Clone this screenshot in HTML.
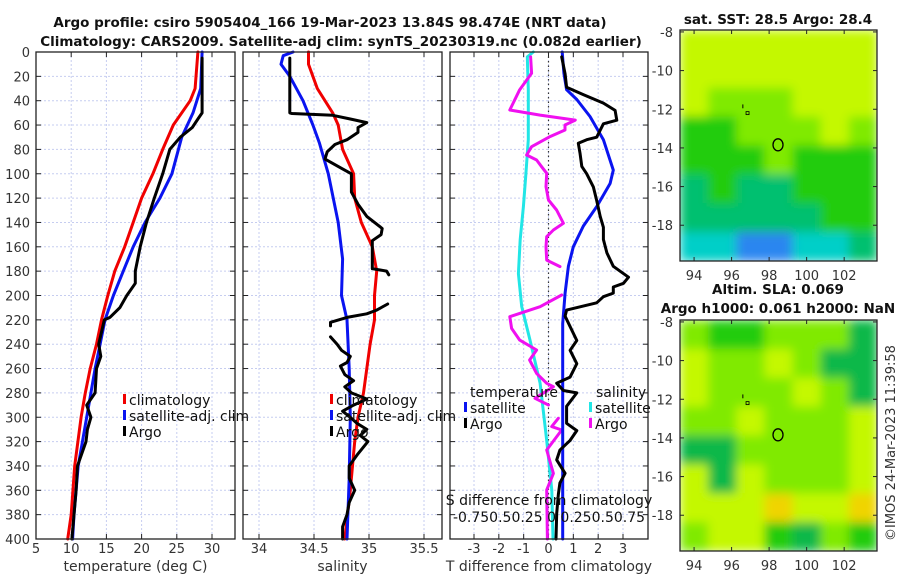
<!DOCTYPE html>
<html><head><meta charset="utf-8">
<style>
html,body{margin:0;padding:0;background:#fff;}
svg{display:block;font-family:"DejaVu Sans","Liberation Sans",sans-serif;}
.tick{font-size:13px;fill:#333;}
.ttl{font-size:13.5px;font-weight:bold;fill:#111;}
.leg{font-size:14px;fill:#111;}
</style></head>
<body>
<svg id="chart" width="900" height="580" viewBox="0 0 900 580">
<defs>
<filter id="smooth" x="0" y="0" width="1" height="1"><feGaussianBlur stdDeviation="5" edgeMode="duplicate"/></filter>
<clipPath id="clipTop"><rect x="680" y="30" width="197" height="231"/></clipPath>
<clipPath id="clipBot"><rect x="680" y="320" width="197" height="231"/></clipPath>
</defs>
<text class="ttl" x="330" y="27" text-anchor="middle">Argo profile: csiro 5905404_166 19-Mar-2023 13.84S 98.474E (NRT data)</text>
<text class="ttl" x="341" y="46" text-anchor="middle">Climatology: CARS2009. Satellite-adj clim: synTS_20230319.nc (0.082d earlier)</text>
<text class="ttl" x="778" y="24" text-anchor="middle">sat. SST: 28.5 Argo: 28.4</text>
<text class="ttl" x="778" y="294" text-anchor="middle">Altim. SLA: 0.069</text>
<text class="ttl" x="778" y="313" text-anchor="middle">Argo h1000: 0.061 h2000: NaN</text>
<text class="tick" transform="translate(895,541) rotate(-90)">©IMOS 24-Mar-2023 11:39:58</text>
</svg>
<script>
// ---- data ----
const depthTicks=[0,20,40,60,80,100,120,140,160,180,200,220,240,260,280,300,320,340,360,380,400];
const tempTicks=[5,10,15,20,25,30];
const salTicks=[34,34.5,35,35.5];
const salTickLabels=["34","34.5","35","35.5"];
const dTTicks=[-3,-2,-1,0,1,2,3];
const climTDepth=[0,30,40,60,80,100,120,140,160,180,200,220,240,260,280,300,340,380,400];
const climT=[28.0,27.6,26.9,24.5,23.0,21.6,20.0,18.8,17.6,16.2,15.2,14.3,13.6,12.7,12.0,11.4,10.5,10.0,9.5];
const satTDepth=[0,30,50,70,100,120,140,160,180,200,220,240,260,280,300,340,380,400];
const satT=[28.6,28.4,27.3,25.7,24.3,22.6,20.5,18.8,17.4,16.0,14.8,14.1,13.4,12.8,12.2,11.0,10.4,10.2];
const argoTDepth=[5,50,55,62,70,80,100,120,140,160,180,190,200,210,218,220,240,250,260,280,290,300,310,320,340,360,400];
const argoT=[28.6,28.6,28.0,27.2,25.5,24.0,23.0,21.8,20.7,19.8,19.1,19.1,17.9,16.9,15.5,14.7,13.9,14.2,13.6,13.4,12.2,12.8,12.3,12.1,10.9,10.7,10.1];
const climSDepth=[0,10,30,50,60,80,100,120,140,160,180,200,220,240,260,280,300,320,340,360,400];
const climS=[34.45,34.45,34.53,34.67,34.72,34.76,34.86,34.87,34.93,35.03,35.07,35.05,35.05,35.01,34.98,34.95,34.90,34.87,34.85,34.83,34.78];
const satSDepth=[0,3,10,20,40,60,75,100,140,170,200,220,260,300,350,400];
const satS=[34.31,34.22,34.20,34.28,34.40,34.49,34.55,34.63,34.72,34.76,34.75,34.80,34.82,34.83,34.82,34.80];
const argoSDepth=[5,50,50.5,52,55,58,62,66,72,76,82,88,96,100,115,125,135,145,150,155,165,178,180,183,184,207,212,215,218,222,225,230,234,240,245,250,255,258,265,270,275,280,285,290,295,300,305,310,315,320,330,340,350,360,370,380,390,400];
const argoS=[34.28,34.28,34.30,34.67,34.83,34.98,34.90,34.90,34.80,34.69,34.62,34.60,34.76,34.84,34.84,34.90,34.98,35.12,35.11,35.03,35.03,35.03,35.16,35.18,null,35.17,35.07,34.98,34.80,34.65,34.65,null,34.65,34.71,34.75,34.83,34.80,34.74,34.78,34.86,34.78,34.84,34.98,34.86,34.76,34.83,34.89,34.98,34.92,34.99,34.90,34.82,34.82,34.87,34.82,34.80,34.76,34.76];
const dTArgoDepth=[4,18,29,35,42,48,56,59,70,72,75,83,94,100,111,122,135,144,154,165,176,185,190,193,198,201,206,212,217,237,245,256,267,272,278,280,291,305,311,319,327,335,346,354,363,379,400];
const dTArgo=[0.53,0.67,0.73,1.40,2.21,2.68,2.75,2.21,1.94,1.54,1.20,1.27,1.34,1.54,1.81,1.94,2.08,2.21,2.21,2.35,2.61,3.22,3.02,2.61,2.61,2.21,1.94,0.73,0.67,1.14,0.87,1.14,0.87,0.33,0.60,1.14,0.73,0.73,1.14,0.87,0.46,0.33,0.67,0.46,0.40,0.33,0.30];
const dTSatDepth=[0,17.5,31,39,53,72,97,108,127,143,160,176,198,223,250,291,346,400];
const dTSat=[0.55,0.62,0.73,1.14,1.67,2.21,2.61,2.48,1.94,1.40,1.00,0.80,0.67,0.57,0.57,0.57,0.57,0.57];
const dSSatDepth=[0,4,31,72,100,127,154,182,209,237,272,319,360,400];
const dSSat=[-0.153,-0.213,-0.203,-0.203,-0.228,-0.253,-0.285,-0.303,-0.27,-0.185,-0.085,-0.018,0.033,0.045];
const dSArgoDepth=[4,17.5,31,47.6,51.8,55.9,60,64.1,69.5,77.8,84.6,88.7,94.2,99.6,110.6,121.6,129.8,140.7,146.2,151.7,159.9,170.9,176.3,177,199.6,209.2,217.4,227,236.6,244.8,253,264,272.1,274.9,284.4,289.9,290.5,300.9,307.7,310.5,326.9,346.1,359.7,400];
const dSArgo=[-0.18,-0.17,-0.29,-0.39,-0.085,0.27,0.166,0.166,0.015,-0.17,-0.22,-0.12,-0.069,-0.018,-0.025,0.0,0.082,0.15,0.049,-0.018,-0.025,-0.018,0.116,null,0.133,-0.085,-0.39,-0.371,-0.29,-0.12,-0.19,-0.12,-0.018,0.049,-0.136,0.0,null,0.099,0.032,0.133,-0.018,0.049,-0.018,-0.011];
const mapLonTicks=[94,96,98,100,102];
const mapLatTicks=[-8,-10,-12,-14,-16,-18];
const sstGrid=["YYYYYYY","YYYYYYY","YLLLYYY","GGLLLYL","GGGLGGG","TGTTGGG","TTTTTGG","CCBBCCT"];
const slaGrid=["LGGLLLD","YLLYLDD","YLLLYLD","LLYLLLY","DDLLLLY","YDYLLLY","YYYOYYO","LYYGDLG"];
const gridColors={Y:"#c4f800",L:"#80ea00",G:"#20cc10",D:"#10b848",T:"#00c070",C:"#00cfc8",B:"#2a86f0",O:"#f0d400"};
const argoLon=98.474, argoLat=-13.84;

// ---- helpers ----
const NS="http://www.w3.org/2000/svg";
const svg=document.getElementById('chart');
function mk(tag,attrs,parent){const e=document.createElementNS(NS,tag);for(const k in attrs)e.setAttribute(k,attrs[k]);(parent||svg).appendChild(e);return e;}
const Y0=52,Y1=539;
const yD=d=>Y0+(Y1-Y0)*d/400;
function lin(d0,d1,r0,r1){return v=>r0+(v-d0)*(r1-r0)/(d1-d0);}
const xT=lin(5,30,36,212);
const xS=lin(34,35.5,259,424);
const xDT=lin(0,3,548.5,623);
const xDS=v=>xDT(v*4);

function panel(x0,x1,name,xticks,xlabels,xfn,xtitle,showDepth){
  const g=mk('g',{});
  
  
  depthTicks.forEach(d=>{const l=mk('line',{x1:x0,x2:x1,y1:yD(d),y2:yD(d),stroke:'#c6cdf0','stroke-width':1,'stroke-dasharray':'2,2'},g);
    
    mk('line',{x1:x0,x2:x0+5,y1:yD(d),y2:yD(d),stroke:'#222'},g);mk('line',{x1:x1-5,x2:x1,y1:yD(d),y2:yD(d),stroke:'#222'},g);
    if(showDepth){const t=mk('text',{x:30,y:yD(d)+5,'text-anchor':'end',class:'tick'},g);t.textContent=d;
      }
  });
  xticks.forEach((v,i)=>{const x=xfn(v);
    const l=mk('line',{x1:x,x2:x,y1:Y0,y2:Y1,stroke:'#c6cdf0','stroke-width':1,'stroke-dasharray':'2,2'},g);
    
    mk('line',{x1:x,x2:x,y1:Y1-5,y2:Y1,stroke:'#222'},g);mk('line',{x1:x,x2:x,y1:Y0,y2:Y0+5,stroke:'#222'},g);
    const t=mk('text',{x:x,y:553,'text-anchor':'middle',class:'tick'},g);t.textContent=xlabels[i];
    });
  const tt=mk('text',{x:(x0+x1)/2,y:571,'text-anchor':'middle',class:'tick',style:'font-size:14px'},g);tt.textContent=xtitle;
  
  return g;
}
function frame(x0,x1,name){const r=mk('rect',{x:x0,y:Y0,width:x1-x0,height:Y1-Y0,fill:'none',stroke:'#222','stroke-width':1.3});
  }
function series(depths,vals,xfn,color,name,w){
  let d='',pen=false;
  for(let i=0;i<depths.length;i++){
    if(vals[i]===null){pen=false;continue;}
    d+=(pen?'L':'M')+xfn(vals[i]).toFixed(1)+','+yD(depths[i]).toFixed(1);pen=true;
  }
  const p=mk('path',{d:d,fill:'none',stroke:color,'stroke-width':w||3,'stroke-linejoin':'round','stroke-linecap':'round'});
  
  
}
function legend(x,items){
  items.forEach((it,i)=>{const y=405+i*16;
    mk('rect',{x:x,y:y-11,width:3,height:10,fill:it[1]});
    const t=mk('text',{x:x+6,y:y,class:'leg'});t.textContent=it[0];
    
    });
}

// panel 1 temperature
panel(36,235,'temperature-panel',tempTicks,tempTicks.map(String),xT,'temperature (deg C)',true);
series(climTDepth,climT,xT,'#f00000','climatology-temperature-line');
series(satTDepth,satT,xT,'#0a14f0','satellite-temperature-line');
series(argoTDepth,argoT,xT,'#000','argo-temperature-line');
legend(123,[["climatology","#f00000"],["satellite-adj. clim","#0a14f0"],["Argo","#000"]]);
frame(36,235,'temperature-axes-frame');

// panel 2 salinity
panel(243,442,'salinity-panel',salTicks,salTickLabels,xS,'salinity',false);
series(climSDepth,climS,xS,'#f00000','climatology-salinity-line');
series(satSDepth,satS,xS,'#0a14f0','satellite-salinity-line');
series(argoSDepth,argoS,xS,'#000','argo-salinity-line');
legend(330,[["climatology","#f00000"],["satellite-adj. clim","#0a14f0"],["Argo","#000"]]);
frame(243,442,'salinity-axes-frame');

// panel 3 differences
panel(450,648,'difference-panel',dTTicks,dTTicks.map(String),xDT,'T difference from climatology',false);
const zl=mk('line',{x1:xDT(0),x2:xDT(0),y1:Y0,y2:Y1,stroke:'#333','stroke-width':1.2,'stroke-dasharray':'1.5,3'});

series(dSSatDepth,dSSat,xDS,'#22e6e6','salinity-satellite-difference-line');
series(dSArgoDepth,dSArgo,xDS,'#f010f0','salinity-argo-difference-line');
series(dTSatDepth,dTSat,xDT,'#0a14f0','temperature-satellite-difference-line');
series(dTArgoDepth,dTArgo,xDT,'#000','temperature-argo-difference-line');
(function(){
  const t1=mk('text',{x:470,y:397,class:'leg'});t1.textContent='temperature';
  
  const t2=mk('text',{x:596,y:397,class:'leg'});t2.textContent='salinity';
  
  [[464,'satellite','#0a14f0',413],[464,'Argo','#000',429],[589,'satellite','#22e6e6',413],[589,'Argo','#f010f0',429]].forEach(a=>{
    mk('rect',{x:a[0],y:a[3]-11,width:3,height:10,fill:a[2]});
    const t=mk('text',{x:a[0]+6,y:a[3],class:'leg'});t.textContent=a[1];
    
    });
  const s1=mk('text',{x:549,y:505,'text-anchor':'middle',class:'leg'});s1.textContent='S difference from climatology';
  
  const s2=mk('text',{x:549,y:522,'text-anchor':'middle',class:'leg'});s2.textContent='-0.750.50.25 0 0.250.50.75';
  
})();
frame(450,648,'difference-axes-frame');

// maps
function map(top,name,grid,clip){
  const L=680,R=877,T=top,B=top+231;
  const xl=lin(93.25,103.75,L,R), yl=lin(-7.9,-19.85,T,B);
  const g=mk('g',{});
  
  
  const cg=mk('g',{'clip-path':'url(#'+clip+')'},g);
  const fg=mk('g',{filter:'url(#smooth)'},cg);
  const rows=grid.length, cols=grid[0].length;
  const cw=(R-L)/cols, ch=(B-T)/rows;
  for(let r=0;r<rows;r++)for(let c=0;c<cols;c++){
    const cell=mk('rect',{x:L+c*cw,y:T+r*ch,width:cw+0.5,height:ch+0.5,fill:gridColors[grid[r][c]]},fg);
    
    
  }
  mk('rect',{x:L,y:T,width:R-L,height:B-T,fill:'none',stroke:'#222','stroke-width':1.3},g);
  mapLonTicks.forEach(v=>{const x=xl(v);mk('line',{x1:x,x2:x,y1:B,y2:B-4,stroke:'#222'},g);mk('line',{x1:x,x2:x,y1:T,y2:T+4,stroke:'#222'},g);
    const t=mk('text',{x:x,y:B+19,'text-anchor':'middle',class:'tick'},g);t.textContent=v;
    });
  mapLatTicks.forEach(v=>{const y=yl(v);mk('line',{x1:L,x2:L+4,y1:y,y2:y,stroke:'#222'},g);mk('line',{x1:R,x2:R-4,y1:y,y2:y,stroke:'#222'},g);
    const t=mk('text',{x:673,y:y+5,'text-anchor':'end',class:'tick'},g);t.textContent=v;
    });
  const c=mk('ellipse',{cx:xl(argoLon),cy:yl(argoLat),rx:5,ry:6,fill:'none',stroke:'#000','stroke-width':1.3},g);
  
  mk('rect',{x:xl(96.85)-1.5,y:yl(-12.2)-1.5,width:3,height:3,fill:'none',stroke:'#000','stroke-width':0.8},g);
  mk('line',{x1:xl(96.6),x2:xl(96.6),y1:yl(-11.75),y2:yl(-11.95),stroke:'#000'},g);
}
map(30,'sst-map',sstGrid,'clipTop');
map(320,'sla-map',slaGrid,'clipBot');
</script>
</body></html>
